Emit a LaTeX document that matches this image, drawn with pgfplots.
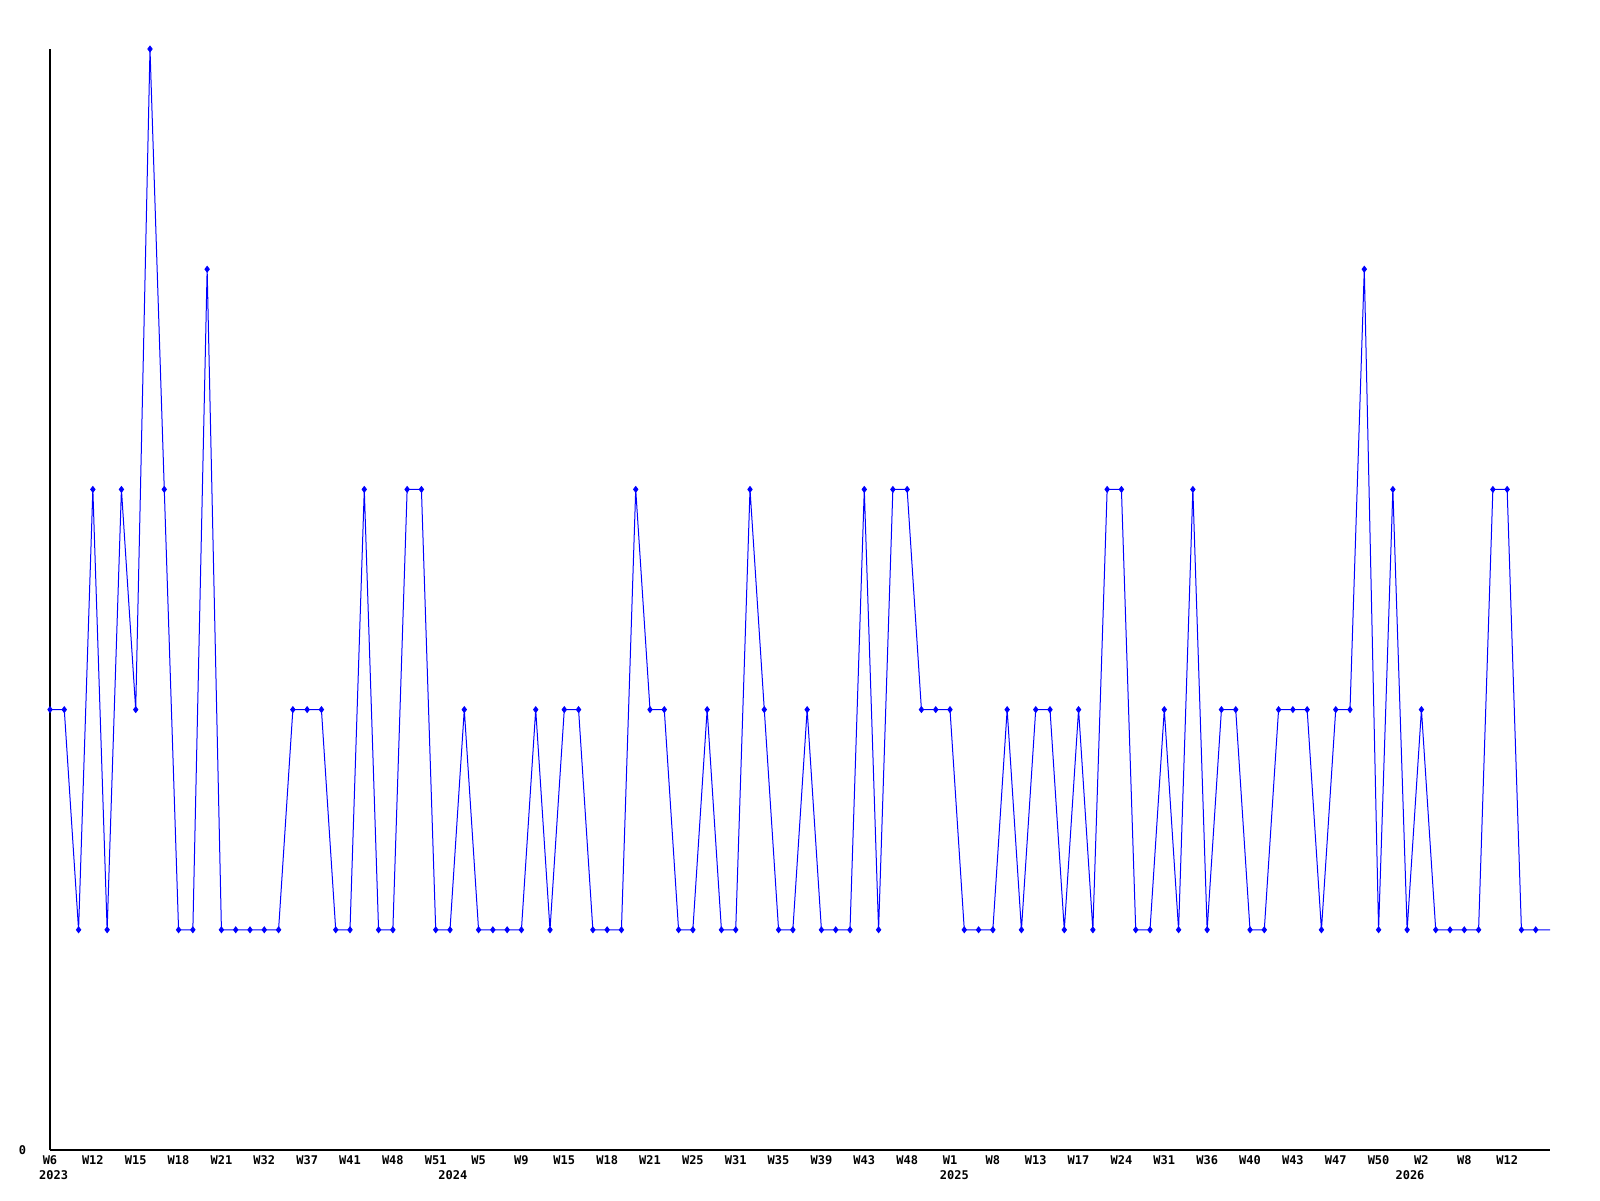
\documentclass[border=0pt]{standalone}
\usepackage{pgfplots}
\pgfplotsset{compat=1.18}
\usepackage{fontspec}
\newfontfamily\chartfont{DejaVu Sans Mono}
\begin{document}
\begin{tikzpicture}
\begin{axis}[
  scale only axis,
  width=750pt, height=550.5pt,
  xmin=0, xmax=105, ymin=0, ymax=5,
  axis lines*=left,
  axis line style={black, line width=0.6pt},
  clip=false,
  major tick length=0pt,
  xtick={0,3,...,102},
  xticklabels={W6,W12,W15,W18,W21,W32,W37,W41,W48,W51,W5,W9,W15,W18,W21,W25,W31,W35,W39,W43,W48,W1,W8,W13,W17,W24,W31,W36,W40,W43,W47,W50,W2,W8,W12},
  ytick={0}, yticklabels={0},
  xticklabel style={font=\chartfont\bfseries\fontsize{6}{6}\selectfont, anchor=center, yshift=-5.25pt},
  yticklabel style={font=\chartfont\bfseries\fontsize{6}{6}\selectfont, anchor=center, xshift=-13.8pt},
]
\addplot[color={rgb,255:red,0;green,0;blue,255}, line width=0.5pt, mark=diamond*, mark size=1.4pt, mark indices={1,...,105}] coordinates {
(0,2)(1,2)(2,1)(3,3)(4,1)(5,3)(6,2)(7,5)(8,3)(9,1)
(10,1)(11,4)(12,1)(13,1)(14,1)(15,1)(16,1)(17,2)(18,2)(19,2)
(20,1)(21,1)(22,3)(23,1)(24,1)(25,3)(26,3)(27,1)(28,1)(29,2)
(30,1)(31,1)(32,1)(33,1)(34,2)(35,1)(36,2)(37,2)(38,1)(39,1)
(40,1)(41,3)(42,2)(43,2)(44,1)(45,1)(46,2)(47,1)(48,1)(49,3)
(50,2)(51,1)(52,1)(53,2)(54,1)(55,1)(56,1)(57,3)(58,1)(59,3)
(60,3)(61,2)(62,2)(63,2)(64,1)(65,1)(66,1)(67,2)(68,1)(69,2)
(70,2)(71,1)(72,2)(73,1)(74,3)(75,3)(76,1)(77,1)(78,2)(79,1)
(80,3)(81,1)(82,2)(83,2)(84,1)(85,1)(86,2)(87,2)(88,2)(89,1)
(90,2)(91,2)(92,4)(93,1)(94,3)(95,1)(96,2)(97,1)(98,1)(99,1)
(100,1)(101,3)(102,3)(103,1)(104,1)(105,1)
};
\node[font=\chartfont\bfseries\fontsize{6}{6}\selectfont, anchor=center, yshift=-12.75pt] at (axis cs:0.25,0) {2023};
\node[font=\chartfont\bfseries\fontsize{6}{6}\selectfont, anchor=center, yshift=-12.75pt] at (axis cs:28.2,0) {2024};
\node[font=\chartfont\bfseries\fontsize{6}{6}\selectfont, anchor=center, yshift=-12.75pt] at (axis cs:63.3,0) {2025};
\node[font=\chartfont\bfseries\fontsize{6}{6}\selectfont, anchor=center, yshift=-12.75pt] at (axis cs:95.2,0) {2026};
\end{axis}
\pgfresetboundingbox
\path (-25pt,-25pt) rectangle (775pt,575pt);
\end{tikzpicture}
\end{document}
